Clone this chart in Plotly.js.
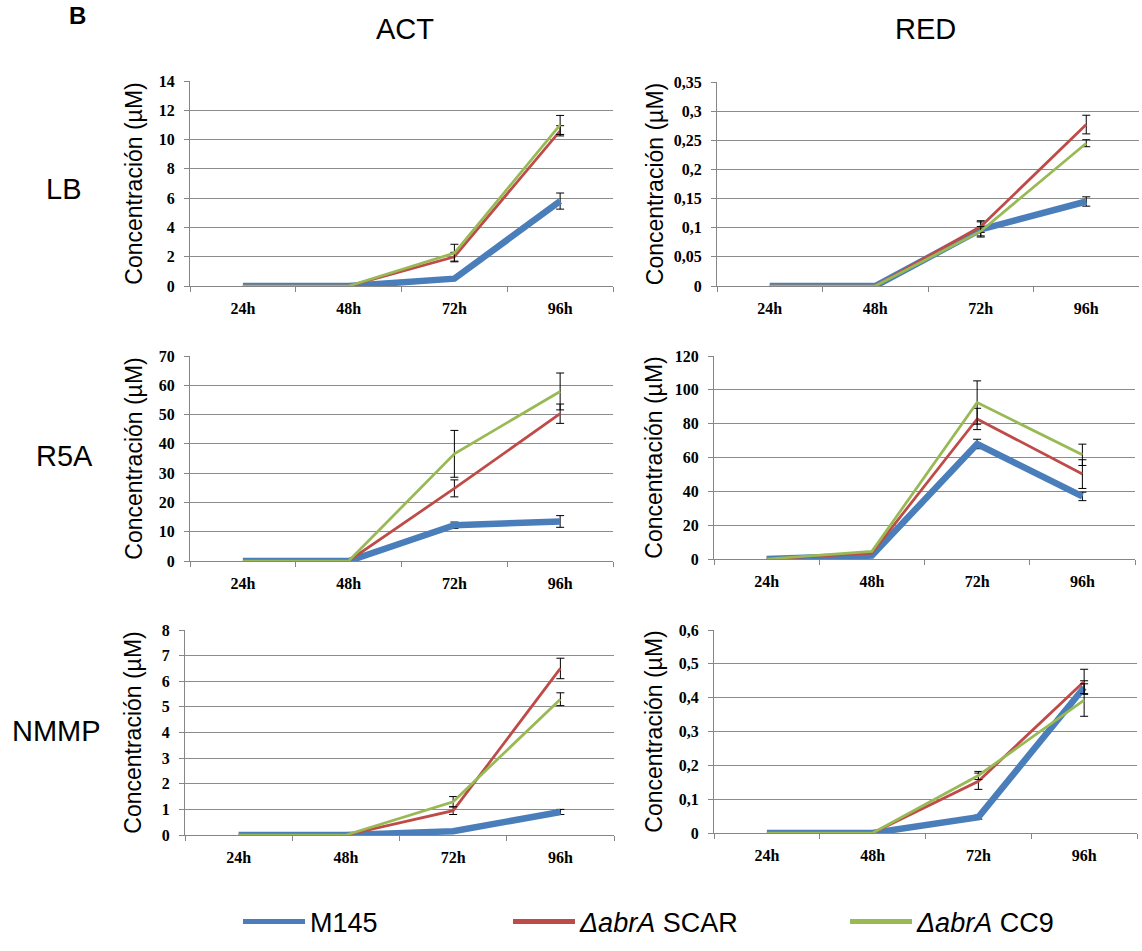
<!DOCTYPE html>
<html>
<head>
<meta charset="utf-8">
<script src="https://cdn.plot.ly/plotly-3.0.1.min.js"></script>
<style>
html, body { margin: 0; padding: 0; background: #ffffff; }
#chart { width: 1142px; height: 951px; }
</style>
</head>
<body>
<div id="chart"></div>
<script>
// ---------- DATA ----------
const categories = ['24h', '48h', '72h', '96h'];
const seriesNames = ['M145', '<i>ΔabrA</i> SCAR', '<i>ΔabrA</i> CC9'];
const compounds = ['ACT', 'RED'];
const media = ['LB', 'R5A', 'NMMP'];
const yTitle = 'Concentración (µM)';

// ACT - LB
const actLB_M145 = [0, 0, 0.5, 5.8];
const actLB_M145_err = [NaN, NaN, NaN, 0.55];
const actLB_SCAR = [0, 0, 2.0, 10.6];
const actLB_SCAR_err = [NaN, NaN, 0.3, 0.35];
const actLB_CC9 = [0, 0, 2.25, 11.0];
const actLB_CC9_err = [NaN, NaN, 0.6, 0.65];

// RED - LB
const redLB_M145 = [0, 0, 0.097, 0.145];
const redLB_M145_err = [NaN, NaN, 0.013, 0.008];
const redLB_SCAR = [0, 0, 0.102, 0.277];
const redLB_SCAR_err = [NaN, NaN, 0.01, 0.016];
const redLB_CC9 = [0, 0, 0.094, 0.245];
const redLB_CC9_err = [NaN, NaN, 0.008, 0.006];

// ACT - R5A
const actR5A_M145 = [0, 0, 12.2, 13.5];
const actR5A_M145_err = [NaN, NaN, 1.1, 2.0];
const actR5A_SCAR = [0, 0, 24.8, 50.3];
const actR5A_SCAR_err = [NaN, NaN, 2.9, 3.3];
const actR5A_CC9 = [0, 0, 36.6, 57.9];
const actR5A_CC9_err = [NaN, NaN, 8.0, 6.3];

// RED - R5A
const redR5A_M145 = [0, 2.0, 68, 37];
const redR5A_M145_err = [NaN, NaN, 2.8, 2.5];
const redR5A_SCAR = [0, 3.5, 82.8, 50.2];
const redR5A_SCAR_err = [NaN, NaN, 6.3, 8.5];
const redR5A_CC9 = [0, 4.5, 92.5, 61.6];
const redR5A_CC9_err = [NaN, NaN, 12.8, 6.3];

// ACT - NMMP
const actNMMP_M145 = [0, 0, 0.15, 0.9];
const actNMMP_M145_err = [NaN, NaN, NaN, 0.1];
const actNMMP_SCAR = [0, 0, 0.95, 6.5];
const actNMMP_SCAR_err = [NaN, NaN, 0.15, 0.4];
const actNMMP_CC9 = [0, 0, 1.3, 5.3];
const actNMMP_CC9_err = [NaN, NaN, 0.2, 0.25];

// RED - NMMP
const redNMMP_M145 = [0, 0, 0.047, 0.43];
const redNMMP_M145_err = [NaN, NaN, 0.006, 0.02];
const redNMMP_SCAR = [0, 0, 0.153, 0.448];
const redNMMP_SCAR_err = [NaN, NaN, 0.024, 0.036];
const redNMMP_CC9 = [0, 0, 0.17, 0.393];
const redNMMP_CC9_err = [NaN, NaN, 0.012, 0.048];

// y axis ranges / steps
const yMax = [14, 0.35, 70, 120, 8, 0.6];
const yStep = [2, 0.05, 10, 20, 1, 0.1];

// ---------- LAYOUT / STYLE ----------
const W = 1142, H = 951;
const colors = ['#4a7ebb', '#be4b48', '#98b954'];
const widths = [6.5, 2.75, 2.75];

const panelVals = [
  [[actLB_M145, actLB_SCAR, actLB_CC9], [actLB_M145_err, actLB_SCAR_err, actLB_CC9_err]],
  [[redLB_M145, redLB_SCAR, redLB_CC9], [redLB_M145_err, redLB_SCAR_err, redLB_CC9_err]],
  [[actR5A_M145, actR5A_SCAR, actR5A_CC9], [actR5A_M145_err, actR5A_SCAR_err, actR5A_CC9_err]],
  [[redR5A_M145, redR5A_SCAR, redR5A_CC9], [redR5A_M145_err, redR5A_SCAR_err, redR5A_CC9_err]],
  [[actNMMP_M145, actNMMP_SCAR, actNMMP_CC9], [actNMMP_M145_err, actNMMP_SCAR_err, actNMMP_CC9_err]],
  [[redNMMP_M145, redNMMP_SCAR, redNMMP_CC9], [redNMMP_M145_err, redNMMP_SCAR_err, redNMMP_CC9_err]]
];

// pixel boxes of plot areas [left, right, top, bottom]
const boxes = [
  [190, 613, 81, 286],
  [717, 1139, 82, 286],
  [190, 613, 356, 561],
  [714, 1135, 356, 559],
  [185, 614, 630, 835],
  [714, 1137, 630, 833]
];
const standoffs = [9, 3, 9, 5, 13, 9];

const tickFont = { family: 'Liberation Serif, Times New Roman, serif', size: 16, color: '#000000', weight: 'bold' };
const gridCol = '#8c8c8c';
const axCol = '#868686';

const traces = [];
const layout = {
  width: W, height: H,
  margin: { l: 0, r: 0, t: 0, b: 0, pad: 0 },
  paper_bgcolor: '#ffffff',
  plot_bgcolor: '#ffffff',
  separators: ',.',
  showlegend: true,
  annotations: [],
  font: { family: 'Liberation Sans, Arial, sans-serif', color: '#000000' }
};

panelVals.forEach((pv, i) => {
  const sfx = i === 0 ? '' : String(i + 1);
  const b = boxes[i];
  layout['xaxis' + sfx] = {
    domain: [b[0] / W, b[1] / W],
    anchor: 'y' + sfx,
    type: 'category',
    categoryorder: 'array',
    categoryarray: categories,
    range: [-0.5, 3.5],
    showgrid: false,
    zeroline: false,
    showline: true,
    linecolor: axCol,
    linewidth: 1,
    ticks: 'outside',
    tickson: 'boundaries',
    ticklen: 5,
    tickcolor: axCol,
    tickwidth: 1,
    tickfont: tickFont,
    ticklabelstandoff: 8,
    fixedrange: true
  };
  layout['yaxis' + sfx] = {
    domain: [1 - b[3] / H, 1 - b[2] / H],
    anchor: 'x' + sfx,
    range: [0, yMax[i] * 1.0001],
    tick0: 0,
    dtick: yStep[i],
    showgrid: true,
    gridcolor: gridCol,
    gridwidth: 1,
    zeroline: false,
    showline: true,
    linecolor: axCol,
    linewidth: 1,
    ticks: 'outside',
    ticklen: 5,
    tickcolor: axCol,
    tickwidth: 1,
    tickfont: tickFont,
    ticklabelstandoff: 6,
    fixedrange: true,
    title: {
      text: yTitle,
      font: { family: 'Liberation Sans, Arial, sans-serif', size: 23, color: '#000000' },
      standoff: standoffs[i]
    }
  };
  pv[0].forEach((vals, s) => {
    traces.push({
      type: 'scatter',
      mode: 'lines',
      x: categories,
      y: vals,
      xaxis: 'x' + sfx,
      yaxis: 'y' + sfx,
      name: seriesNames[s],
      legend: s === 0 ? 'legend' : 'legend' + (s + 1),
      showlegend: i === 0,
      line: { color: colors[s], width: widths[s] },
      error_y: {
        type: 'data',
        array: pv[1][s],
        symmetric: true,
        visible: true,
        color: '#000000',
        thickness: 1,
        width: 4
      },
      hoverinfo: 'skip'
    });
  });
});

// legends (one per series, placed horizontally)
const legendFont = { family: 'Liberation Sans, Arial, sans-serif', size: 27, color: '#000000' };
const legendX = [238, 508, 845];
['legend', 'legend2', 'legend3'].forEach((k, j) => {
  layout[k] = {
    x: legendX[j] / W,
    xanchor: 'left',
    y: 1 - 922 / H,
    yanchor: 'middle',
    orientation: 'h',
    font: legendFont,
    itemwidth: 62,
    itemsizing: 'constant',
    bgcolor: 'rgba(0,0,0,0)',
    borderwidth: 0
  };
});

// headings
const headFont = { family: 'Liberation Sans, Arial, sans-serif', size: 29, color: '#000000' };
function ann(text, px, py, font, extra) {
  return Object.assign({
    text: text, xref: 'paper', yref: 'paper',
    x: px / W, y: 1 - py / H,
    xanchor: 'center', yanchor: 'middle',
    showarrow: false, font: font
  }, extra || {});
}
layout.annotations.push(ann('<b>B</b>', 77, 0, { family: 'Liberation Sans, Arial, sans-serif', size: 24, color: '#000000' }, { yanchor: 'top' }));
layout.annotations.push(ann(compounds[0], 405, 29, headFont));
layout.annotations.push(ann(compounds[1], 925, 29, headFont));
layout.annotations.push(ann(media[0], 63, 189, headFont));
layout.annotations.push(ann(media[1], 64, 456, headFont));
layout.annotations.push(ann(media[2], 56, 731, headFont));

Plotly.newPlot('chart', traces, layout, { displayModeBar: false, staticPlot: true });
</script>
</body>
</html>
